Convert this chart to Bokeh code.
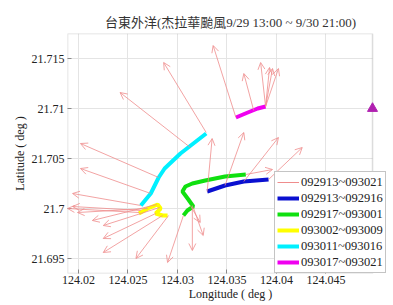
from bokeh.plotting import figure
from bokeh.models import (ColumnDataSource, Arrow, OpenHead, FixedTicker, Legend, LegendItem,
                          Range1d, BoxAnnotation)
from bokeh.embed import file_html
from bokeh.resources import INLINE

title_text = "台東外洋(杰拉華颱風9/29 13:00 ~ 9/30 21:00)"

x_ticks = [124.02, 124.025, 124.03, 124.035, 124.04, 124.045]
x_tick_labels = ["124.02", "124.025", "124.03", "124.035", "124.04", "124.045"]
y_ticks = [21.695, 21.7, 21.705, 21.71, 21.715]
y_tick_labels = ["21.695", "21.7", "21.705", "21.71", "21.715"]

# axes box limits (as in the original chart)
lon_min, lon_max = 124.01889, 124.04970
lat_min, lat_max = 21.6935, 21.7175

# track segments
blue_lon = [124.0330, 124.0348, 124.0367, 124.0392]
blue_lat = [21.7017, 21.7023, 21.7027, 21.7029]
green_lon = [124.0369, 124.0348, 124.0328, 124.0315, 124.0308, 124.0305, 124.0311, 124.0316, 124.0310, 124.0306]
green_lat = [21.7034, 21.7032, 21.7028, 21.7025, 21.7022, 21.7017, 21.7009, 21.7002, 21.6998, 21.6993]
yellow_lon = [124.0261, 124.0270, 124.0280, 124.0283, 124.0278, 124.0285, 124.0290]
yellow_lat = [21.6995, 21.7000, 21.7004, 21.7000, 21.6995, 21.6993, 21.6993]
cyan_lon = [124.0263, 124.0273, 124.0281, 124.0287, 124.0303, 124.0316, 124.0329]
cyan_lat = [21.7003, 21.7015, 21.7031, 21.7040, 21.7055, 21.7065, 21.7075]
magenta_lon = [124.0359, 124.0371, 124.0381, 124.0389]
magenta_lat = [21.7091, 21.7096, 21.7100, 21.7102]

# current arrows (start -> end)
arr_lon0 = [124.0330, 124.0348, 124.0367, 124.0392, 124.0369, 124.0315, 124.0316, 124.0313,
            124.0306, 124.0291, 124.0285, 124.0278, 124.0282, 124.0279, 124.0270, 124.0261,
            124.0263, 124.0263, 124.0273, 124.0281, 124.0313, 124.0329, 124.0359, 124.0377,
            124.0389, 124.0389, 124.0389, 124.0389]
arr_lat0 = [21.7017, 21.7023, 21.7027, 21.7029, 21.7034, 21.7003, 21.7001, 21.7003,
            21.6993, 21.6993, 21.6993, 21.6995, 21.7001, 21.7004, 21.7000, 21.6996,
            21.6998, 21.7003, 21.7015, 21.7031, 21.7061, 21.7076, 21.7091, 21.7098,
            21.7102, 21.7102, 21.7102, 21.7102]
arr_lon1 = [124.0335, 124.0367, 124.0402, 124.0426, 124.0396, 124.0315, 124.0326, 124.0323,
            124.0290, 124.0258, 124.0225, 124.0225, 124.0225, 124.0214, 124.0199, 124.0189,
            124.0194, 124.0194, 124.0202, 124.0202, 124.0242, 124.0286, 124.0336, 124.0367,
            124.0384, 124.0393, 124.0396, 124.0402]
arr_lat1 = [21.7070, 21.7076, 21.7071, 21.7061, 21.7039, 21.6958, 21.6973, 21.6986,
            21.6946, 21.6950, 21.6956, 21.6970, 21.6983, 21.6988, 21.6996, 21.7000,
            21.7002, 21.7015, 21.7040, 21.7065, 21.7116, 21.7146, 21.7163, 21.7135,
            21.7146, 21.7141, 21.7140, 21.7140]

station_lon = [124.0497]
station_lat = [21.7100]

SERIF = "'Liberation Serif', 'Noto Sans CJK TC', serif"
ARROW_COLOR = "#ef8c8c"
FRAME_COLOR = "#8a8a8a"

# frame extends to the right edge of the canvas so the legend can overhang the axes box
p = figure(width=393, height=305, output_backend="svg", toolbar_location=None,
           x_range=Range1d(lon_min, 124.05182), y_range=Range1d(lat_min, lat_max),
           min_border_left=67, min_border_right=0, min_border_top=33, min_border_bottom=32)

p.title.text = title_text
p.title.align = "center"
p.title.offset = -10
p.title.standoff = 8
p.title.text_font = SERIF
p.title.text_font_size = "13px"
p.title.text_font_style = "normal"
p.title.text_color = "#333333"

for ax in (p.xaxis, p.yaxis):
    ax.axis_line_color = None
    ax.major_tick_line_color = FRAME_COLOR
    ax.major_tick_in = 4
    ax.major_tick_out = 0
    ax.minor_tick_line_color = None
    ax.major_label_text_font = SERIF
    ax.major_label_text_font_size = "12px"
    ax.major_label_text_color = "#222222"
    ax.axis_label_text_font = SERIF
    ax.axis_label_text_font_size = "12px"
    ax.axis_label_text_font_style = "normal"
    ax.axis_label_text_color = "#222222"
    ax.major_label_standoff = 3
    ax.axis_label_standoff = 2
p.xaxis.major_label_standoff = 2
p.xaxis.axis_label_standoff = 0

p.xaxis.ticker = FixedTicker(ticks=x_ticks)
p.yaxis.ticker = FixedTicker(ticks=y_ticks)
p.xaxis.major_label_overrides = dict(zip(x_ticks, x_tick_labels))
p.yaxis.major_label_overrides = dict(zip(y_ticks, y_tick_labels))
p.xaxis.axis_label = "Longitude ( deg )"
p.yaxis.axis_label = "Latitude ( deg )"

p.xgrid.ticker = FixedTicker(ticks=x_ticks)
p.ygrid.ticker = FixedTicker(ticks=y_ticks)
p.grid.grid_line_color = "#e4e4e4"
p.grid.grid_line_width = 1
p.outline_line_color = None

# hide the grid outside the axes box, then draw the axes box
p.add_layout(BoxAnnotation(left=lon_max, fill_color="white", fill_alpha=1.0,
                           line_color=None, level="underlay"))
p.add_layout(BoxAnnotation(left=lon_min, right=lon_max, bottom=lat_min, top=lat_max,
                           fill_alpha=0, line_color=FRAME_COLOR, line_width=1.5,
                           level="underlay"))

asrc = ColumnDataSource(dict(x0=arr_lon0, y0=arr_lat0, x1=arr_lon1, y1=arr_lat1))
p.add_layout(Arrow(end=OpenHead(size=7, line_color=ARROW_COLOR, line_width=0.8),
                   x_start="x0", y_start="y0", x_end="x1", y_end="y1", source=asrc,
                   line_color=ARROW_COLOR, line_width=0.8))

r_arrow = p.line([124.0], [21.0], line_color=ARROW_COLOR, line_width=1)
r_blue = p.line(blue_lon, blue_lat, line_color="#0a10d0", line_width=4)
r_green = p.line(green_lon, green_lat, line_color="#10e010", line_width=4)
r_yellow = p.line(yellow_lon, yellow_lat, line_color="#ffff00", line_width=4)
r_cyan = p.line(cyan_lon, cyan_lat, line_color="#00f0ff", line_width=4)
r_mag = p.line(magenta_lon, magenta_lat, line_color="#f000f0", line_width=4)
p.scatter(station_lon, station_lat, marker="triangle", size=10, fill_color="#b020b0", line_color="#b020b0")

legend = Legend(items=[
    LegendItem(label="092913~093021", renderers=[r_arrow]),
    LegendItem(label="092913~092916", renderers=[r_blue]),
    LegendItem(label="092917~093001", renderers=[r_green]),
    LegendItem(label="093002~093009", renderers=[r_yellow]),
    LegendItem(label="093011~093016", renderers=[r_cyan]),
    LegendItem(label="093017~093021", renderers=[r_mag]),
], location=(207, 0))
legend.label_text_font = SERIF
legend.label_text_font_size = "12.5px"
legend.label_text_color = "#222222"
legend.glyph_width = 22
legend.glyph_height = 16
legend.label_height = 16
legend.label_standoff = 2
legend.spacing = 0
legend.padding = 2
legend.margin = 0
legend.border_line_color = FRAME_COLOR
legend.background_fill_alpha = 1.0
p.add_layout(legend)

open("out.html", "w").write(file_html(p, INLINE))
